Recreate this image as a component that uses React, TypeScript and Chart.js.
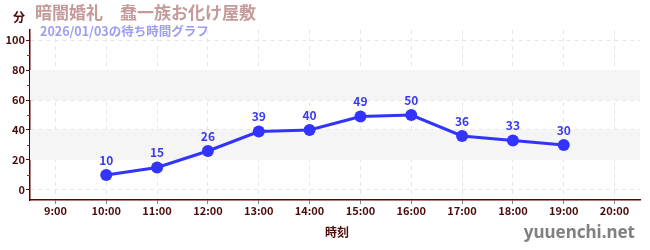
import React, { useEffect, useRef } from "react";
import { Chart, registerables } from "chart.js";

Chart.register(...registerables);

const hours = [10, 11, 12, 13, 14, 15, 16, 17, 18, 19];
const waits = [10, 15, 26, 39, 40, 49, 50, 36, 33, 30];
const xTickHours = [9, 10, 11, 12, 13, 14, 15, 16, 17, 18, 19, 20];
const yTicks = [0, 20, 40, 60, 80, 100];
const yMinorTicks = [10, 30, 50, 70, 90];
const bands = [
  [20, 40],
  [60, 80],
];
const titleText = "暗闇婚礼　蠢一族お化け屋敷";
const subtitleText = "2026/01/03の待ち時間グラフ";
const unitText = "分";
const xTitleText = "時刻";
const watermarkText = "yuuenchi.net";

const FONT = "'Noto Sans CJK JP', 'Noto Sans', sans-serif";
const DARK = "#4d0a0a";

const decorPlugin = {
  id: "decor",
  beforeDatasetsDraw(chart: any) {
    const { ctx, chartArea, scales } = chart;
    const y = scales.y;
    ctx.save();
    ctx.fillStyle = "#f5f5f5";
    for (const [a, b] of bands) {
      const y1 = y.getPixelForValue(b);
      const y2 = y.getPixelForValue(a);
      ctx.fillRect(chartArea.left, y1, chartArea.right - chartArea.left, y2 - y1);
    }
    ctx.restore();
  },
  afterDraw(chart: any) {
    const { ctx, chartArea, scales } = chart;
    const y = scales.y;
    ctx.save();
    ctx.strokeStyle = "#d01010";
    ctx.lineWidth = 1;
    for (const v of yMinorTicks) {
      const py = Math.round(y.getPixelForValue(v)) + 0.5;
      ctx.beginPath();
      ctx.moveTo(chartArea.left - 3, py);
      ctx.lineTo(chartArea.left, py);
      ctx.stroke();
    }
    ctx.textBaseline = "middle";
    ctx.textAlign = "left";
    ctx.fillStyle = "#c49a9a";
    ctx.font = `bold 17px ${FONT}`;
    ctx.fillText(titleText, 35, 13);
    ctx.fillStyle = "#9d9df2";
    ctx.font = `bold 12.5px ${FONT}`;
    ctx.fillText(subtitleText, 40, 31);
    ctx.fillStyle = DARK;
    ctx.font = `bold 12px ${FONT}`;
    ctx.textAlign = "right";
    ctx.fillText(unitText, 25, 17);
    ctx.textAlign = "center";
    ctx.font = `bold 12px ${FONT}`;
    ctx.fillText(xTitleText, (chartArea.left + chartArea.right) / 2 + 2, 232);
    ctx.textAlign = "right";
    ctx.textBaseline = "alphabetic";
    ctx.fillStyle = "#808080";
    ctx.font = `bold 17px 'Noto Sans', 'DejaVu Sans', sans-serif`;
    ctx.fillText(watermarkText, 635, 238);
    ctx.restore();
  },
  afterDatasetsDraw(chart: any) {
    const { ctx } = chart;
    const meta = chart.getDatasetMeta(0);
    ctx.save();
    ctx.fillStyle = "#3a3af0";
    ctx.font = `bold 12px ${FONT}`;
    ctx.textAlign = "center";
    ctx.textBaseline = "middle";
    meta.data.forEach((pt: any, i: number) => {
      ctx.fillText(String(waits[i]), pt.x, pt.y - 15);
    });
    ctx.restore();
  },
};

export default function App() {
  const ref = useRef<HTMLCanvasElement>(null);
  useEffect(() => {
    document.body.style.margin = "0";
    const chart = new Chart(ref.current!, {
      type: "line",
      data: {
        datasets: [
          {
            data: hours.map((h, i) => ({ x: h, y: waits[i] })),
            borderColor: "#3333ff",
            backgroundColor: "#3333ff",
            borderWidth: 3,
            pointRadius: 6,
            pointBackgroundColor: "#3333ff",
            pointBorderWidth: 0,
            tension: 0,
          },
        ],
      },
      options: {
        animation: false,
        responsive: false,
        maintainAspectRatio: false,
        layout: { padding: { top: 30, right: 10, left: 0, bottom: 0 } },
        plugins: { legend: { display: false }, tooltip: { enabled: false } },
        scales: {
          x: {
            type: "linear",
            min: 8.5,
            max: 20.5,
            afterBuildTicks: (s: any) => {
              s.ticks = xTickHours.map((v) => ({ value: v }));
            },
            afterFit: (s: any) => {
              s.height = 50;
            },
            ticks: {
              callback: (v: any) => `${v}:00`,
              color: DARK,
              font: { family: FONT, size: 11, weight: "bold" },
              padding: 0,
              maxRotation: 0,
              autoSkip: false,
            },
            grid: {
              color: "#e6e6e6",
              tickColor: "#888",
              tickLength: 4,
            },
            border: { color: "#600000", width: 1.5, dash: [4, 4] as any },
          },
          y: {
            type: "linear",
            min: -6.67,
            max: 106.67,
            afterBuildTicks: (s: any) => {
              s.ticks = yTicks.map((v) => ({ value: v }));
            },
            afterFit: (s: any) => {
              s.width = 30;
            },
            ticks: {
              color: DARK,
              font: { family: FONT, size: 11, weight: "bold" },
              padding: 1,
            },
            grid: {
              color: "#e6e6e6",
              tickColor: DARK,
              tickLength: 4,
            },
            border: { color: "#600000", width: 1.5, dash: [4, 4] as any },
          },
        },
      },
      plugins: [decorPlugin],
    } as any);
    return () => chart.destroy();
  }, []);
  return (
    <div style={{ position: "absolute", left: 0, top: 0, width: 650, height: 250 }}>
      <canvas ref={ref} width={650} height={250} style={{ width: 650, height: 250 }} />
    </div>
  );
}
